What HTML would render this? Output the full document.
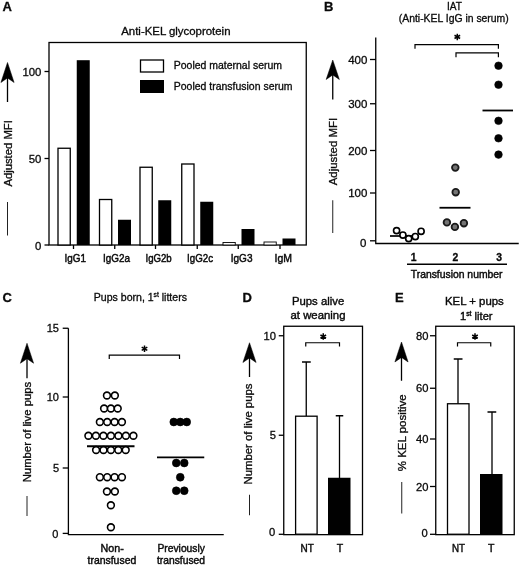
<!DOCTYPE html>
<html><head><meta charset="utf-8"><title>Figure</title>
<style>
html,body{margin:0;padding:0;background:#fff;}
body{width:520px;height:565px;overflow:hidden;font-family:"Liberation Sans",sans-serif;}
svg{display:block;will-change:transform;opacity:0.999;}
text{font-family:"Liberation Sans",sans-serif;fill:#0a0a0a;stroke:#0a0a0a;stroke-width:0.3;}
.b{font-weight:bold;}
.l{stroke:#000;stroke-width:1.3;fill:none;}
.d{stroke:#222;stroke-width:1;fill:none;}
.br{stroke:#000;stroke-width:1.2;fill:none;}
.w{fill:#fff;stroke:#000;stroke-width:1.3;}
.k{fill:#000;stroke:#000;stroke-width:0.6;}
</style></head><body>
<svg width="520" height="565" viewBox="0 0 520 565">
<rect width="520" height="565" fill="#fff"/>

<text x="2.6" y="10.5" font-size="13" class="b">A</text>
<text x="324" y="10.5" font-size="13" class="b">B</text>
<text x="2.6" y="301.5" font-size="13" class="b">C</text>
<text x="242.5" y="301.5" font-size="13" class="b">D</text>
<text x="395" y="301.5" font-size="13" class="b">E</text>
<!-- Panel A -->
<text x="121.25" y="35" font-size="10.4" textLength="109.25" lengthAdjust="spacingAndGlyphs">Anti-KEL glycoprotein</text>
<rect x="49" y="42.5" width="257.25" height="202.5" class="l"/>
<line x1="44.5" y1="71.5" x2="49" y2="71.5" class="l"/>
<text x="41.4" y="75.8" font-size="11.4" text-anchor="end">100</text>
<line x1="44.5" y1="158.5" x2="49" y2="158.5" class="l"/>
<text x="41.4" y="162.8" font-size="11.4" text-anchor="end">50</text>
<line x1="44.5" y1="245" x2="49" y2="245" class="l"/>
<text x="41.4" y="250.10000000000002" font-size="11.4" text-anchor="end">0</text>
<rect x="58.0" y="148.25" width="12.25" height="96.75" class="w"/>
<rect x="76.75" y="60.2" width="13" height="184.8" fill="#000"/>
<rect x="99.5" y="199.5" width="12.25" height="45.5" class="w"/>
<rect x="118" y="219.75" width="13" height="25.25" fill="#000"/>
<rect x="140.0" y="167.25" width="12.25" height="77.75" class="w"/>
<rect x="158.25" y="200.25" width="13" height="44.75" fill="#000"/>
<rect x="181.75" y="164.0" width="12.25" height="81.0" class="w"/>
<rect x="200.25" y="201.75" width="13" height="43.25" fill="#000"/>
<rect x="223.0" y="242.5" width="12.25" height="2.5000000000000058" fill="#fff" stroke="#000" stroke-width="0.9"/>
<rect x="241.5" y="229" width="13" height="16" fill="#000"/>
<rect x="264.0" y="242.0" width="12.25" height="3.0000000000000058" fill="#fff" stroke="#000" stroke-width="0.9"/>
<rect x="282.5" y="238.5" width="13" height="6.5" fill="#000"/>
<line x1="73.5" y1="245" x2="73.5" y2="249" class="l"/>
<text x="75.25" y="261.5" font-size="10.6" text-anchor="middle" textLength="21.5" lengthAdjust="spacingAndGlyphs" style="stroke-width:0.45">IgG1</text>
<line x1="114.75" y1="245" x2="114.75" y2="249" class="l"/>
<text x="116.5" y="261.5" font-size="10.6" text-anchor="middle" textLength="27" lengthAdjust="spacingAndGlyphs" style="stroke-width:0.45">IgG2a</text>
<line x1="155.5" y1="245" x2="155.5" y2="249" class="l"/>
<text x="158.6" y="261.5" font-size="10.6" text-anchor="middle" textLength="26.25" lengthAdjust="spacingAndGlyphs" style="stroke-width:0.45">IgG2b</text>
<line x1="197.25" y1="245" x2="197.25" y2="249" class="l"/>
<text x="200" y="261.5" font-size="10.6" text-anchor="middle" textLength="26" lengthAdjust="spacingAndGlyphs" style="stroke-width:0.45">IgG2c</text>
<line x1="238.25" y1="245" x2="238.25" y2="249" class="l"/>
<text x="241.6" y="261.5" font-size="10.6" text-anchor="middle" textLength="21.75" lengthAdjust="spacingAndGlyphs" style="stroke-width:0.45">IgG3</text>
<line x1="280" y1="245" x2="280" y2="249" class="l"/>
<text x="283.25" y="261.5" font-size="10.6" text-anchor="middle" textLength="17.5" lengthAdjust="spacingAndGlyphs" style="stroke-width:0.45">IgM</text>
<rect x="140.5" y="60" width="23" height="12" class="w"/>
<rect x="140" y="80" width="24" height="13" fill="#000"/>
<text x="173.75" y="69.3" font-size="10.3" textLength="108.25" lengthAdjust="spacingAndGlyphs">Pooled maternal serum</text>
<text x="173.75" y="89.8" font-size="10.3" textLength="118.75" lengthAdjust="spacingAndGlyphs">Pooled transfusion serum</text>
<path d="M7.5 62.5 L14.1 82.5 L7.5 77.9 L0.9000000000000004 82.5 Z" fill="#000" stroke="#000" stroke-width="0.5" stroke-linejoin="miter"/>
<line x1="7.5" y1="76.9" x2="7.5" y2="102" class="l"/>
<text x="11.7" y="186.6" font-size="11.2" textLength="66.5" lengthAdjust="spacingAndGlyphs" transform="rotate(-90 11.7 186.6)">Adjusted MFI</text>
<line x1="7.5" y1="202" x2="7.5" y2="235.5" class="d"/>
<!-- Panel B -->
<text x="454.5" y="9.6" font-size="10.3" text-anchor="middle" textLength="15" lengthAdjust="spacingAndGlyphs">IAT</text>
<text x="398.75" y="22.4" font-size="10.3" textLength="110" lengthAdjust="spacingAndGlyphs">(Anti-KEL IgG in serum)</text>
<path d="M375.75 37.5 V243.5 H518.75" class="l"/>
<line x1="370" y1="59.5" x2="375.75" y2="59.5" class="l"/>
<text x="367.4" y="63.7" font-size="11.5" text-anchor="end">400</text>
<line x1="370" y1="103.75" x2="375.75" y2="103.75" class="l"/>
<text x="367.4" y="107.95" font-size="11.5" text-anchor="end">300</text>
<line x1="370" y1="150.5" x2="375.75" y2="150.5" class="l"/>
<text x="367.4" y="154.7" font-size="11.5" text-anchor="end">200</text>
<line x1="370" y1="193" x2="375.75" y2="193" class="l"/>
<text x="367.4" y="197.2" font-size="11.5" text-anchor="end">100</text>
<line x1="370" y1="240.8" x2="375.75" y2="240.8" class="l"/>
<text x="366.4" y="247.3" font-size="11.5" text-anchor="end">0</text>
<path d="M415 48.8 V44.6 H498.4 V48.8" class="br"/>
<path d="M456 57.2 V52.9 H498.4 V57.2" class="br"/>
<path d="M457.30 33.65 L457.30 40.15 M454.49 35.27 L460.11 38.52 M460.11 35.27 L454.49 38.52 " stroke="#000" stroke-width="1.5" fill="none"/>
<circle cx="498.5" cy="65.7" r="3.8" class="k"/>
<circle cx="498.5" cy="84.7" r="3.8" class="k"/>
<circle cx="498.5" cy="120.8" r="3.8" class="k"/>
<circle cx="498.5" cy="138.3" r="3.8" class="k"/>
<circle cx="498.5" cy="154.6" r="3.8" class="k"/>
<line x1="482.5" y1="110.5" x2="513" y2="110.5" stroke="#000" stroke-width="1.8"/>
<circle cx="455.3" cy="167.6" r="3.3" fill="#747474" stroke="#1a1a1a" stroke-width="1.8"/>
<circle cx="455.7" cy="192.2" r="3.3" fill="#747474" stroke="#1a1a1a" stroke-width="1.8"/>
<circle cx="446.9" cy="222.4" r="3.3" fill="#747474" stroke="#1a1a1a" stroke-width="1.8"/>
<circle cx="454.9" cy="226.9" r="3.3" fill="#747474" stroke="#1a1a1a" stroke-width="1.8"/>
<circle cx="463.9" cy="223.2" r="3.3" fill="#747474" stroke="#1a1a1a" stroke-width="1.8"/>
<line x1="439.5" y1="207.75" x2="470.5" y2="207.75" stroke="#000" stroke-width="1.8"/>
<line x1="390" y1="236" x2="412" y2="236" stroke="#000" stroke-width="1.7"/>
<circle cx="396.6" cy="230.6" r="3.05" fill="#fff" stroke="#000" stroke-width="1.65"/>
<circle cx="402.9" cy="235" r="3.05" fill="#fff" stroke="#000" stroke-width="1.65"/>
<circle cx="408.7" cy="238.6" r="3.05" fill="#fff" stroke="#000" stroke-width="1.65"/>
<circle cx="415.3" cy="236.5" r="3.05" fill="#fff" stroke="#000" stroke-width="1.65"/>
<circle cx="421.1" cy="231.3" r="3.05" fill="#fff" stroke="#000" stroke-width="1.65"/>
<text x="413.75" y="260.6" font-size="10.4" text-anchor="middle" class="b">1</text>
<text x="455.5" y="260.6" font-size="10.4" text-anchor="middle" class="b">2</text>
<text x="499.25" y="260.6" font-size="10.4" text-anchor="middle" class="b">3</text>
<line x1="407" y1="264.2" x2="507" y2="264.2" stroke="#000" stroke-width="1.5"/>
<text x="410.75" y="278.2" font-size="10.4" textLength="91.75" lengthAdjust="spacingAndGlyphs" style="stroke-width:0.42">Transfusion number</text>
<path d="M332.75 60 L339.35 79.5 L332.75 74.9 L326.15 79.5 Z" fill="#000" stroke="#000" stroke-width="0.5" stroke-linejoin="miter"/>
<line x1="332.75" y1="73.9" x2="332.75" y2="99.5" class="l"/>
<text x="336.6" y="185.3" font-size="11.2" textLength="67.5" lengthAdjust="spacingAndGlyphs" transform="rotate(-90 336.6 185.3)">Adjusted MFI</text>
<line x1="332.75" y1="200.25" x2="332.75" y2="233" class="d"/>
<!-- Panel C -->
<text x="93.75" y="300.9" font-size="10.3" textLength="93.25" lengthAdjust="spacingAndGlyphs">Pups born, 1<tspan font-size="6.5" dy="-3.6">st</tspan><tspan dy="3.6"> litters</tspan></text>
<path d="M68.4 328.25 V534.6 H223.75" class="l"/>
<line x1="62.7" y1="328.25" x2="68.4" y2="328.25" class="l"/>
<text x="59.0" y="332.25" font-size="11" text-anchor="end">15</text>
<line x1="62.7" y1="397" x2="68.4" y2="397" class="l"/>
<text x="59.0" y="401" font-size="11" text-anchor="end">10</text>
<line x1="62.7" y1="468" x2="68.4" y2="468" class="l"/>
<text x="59.0" y="472" font-size="11" text-anchor="end">5</text>
<line x1="62.7" y1="533.4" x2="68.4" y2="533.4" class="l"/>
<text x="58.4" y="538.0" font-size="11" text-anchor="end">0</text>
<path d="M109.25 359 V355.2 H179.5 V359" class="br"/>
<path d="M144.50 345.55 L144.50 352.05 M141.69 347.18 L147.31 350.43 M147.31 347.18 L141.69 350.43 " stroke="#000" stroke-width="1.5" fill="none"/>
<line x1="87" y1="446.25" x2="134.5" y2="446.25" stroke="#000" stroke-width="1.9"/>
<circle cx="106.95" cy="395.5" r="3.4" fill="#fff" stroke="#000" stroke-width="1.6"/>
<circle cx="114.85" cy="395.5" r="3.4" fill="#fff" stroke="#000" stroke-width="1.6"/>
<circle cx="104.10" cy="408.5" r="3.4" fill="#fff" stroke="#000" stroke-width="1.6"/>
<circle cx="110.90" cy="408.5" r="3.4" fill="#fff" stroke="#000" stroke-width="1.6"/>
<circle cx="117.70" cy="408.5" r="3.4" fill="#fff" stroke="#000" stroke-width="1.6"/>
<circle cx="99.88" cy="422" r="3.4" fill="#fff" stroke="#000" stroke-width="1.6"/>
<circle cx="107.22" cy="422" r="3.4" fill="#fff" stroke="#000" stroke-width="1.6"/>
<circle cx="114.58" cy="422" r="3.4" fill="#fff" stroke="#000" stroke-width="1.6"/>
<circle cx="121.92" cy="422" r="3.4" fill="#fff" stroke="#000" stroke-width="1.6"/>
<circle cx="88.40" cy="435.75" r="3.4" fill="#fff" stroke="#000" stroke-width="1.6"/>
<circle cx="95.90" cy="435.75" r="3.4" fill="#fff" stroke="#000" stroke-width="1.6"/>
<circle cx="103.40" cy="435.75" r="3.4" fill="#fff" stroke="#000" stroke-width="1.6"/>
<circle cx="110.90" cy="435.75" r="3.4" fill="#fff" stroke="#000" stroke-width="1.6"/>
<circle cx="118.40" cy="435.75" r="3.4" fill="#fff" stroke="#000" stroke-width="1.6"/>
<circle cx="125.90" cy="435.75" r="3.4" fill="#fff" stroke="#000" stroke-width="1.6"/>
<circle cx="133.40" cy="435.75" r="3.4" fill="#fff" stroke="#000" stroke-width="1.6"/>
<circle cx="96.10" cy="450" r="3.4" fill="#fff" stroke="#000" stroke-width="1.6"/>
<circle cx="103.50" cy="450" r="3.4" fill="#fff" stroke="#000" stroke-width="1.6"/>
<circle cx="110.90" cy="450" r="3.4" fill="#fff" stroke="#000" stroke-width="1.6"/>
<circle cx="118.30" cy="450" r="3.4" fill="#fff" stroke="#000" stroke-width="1.6"/>
<circle cx="125.70" cy="450" r="3.4" fill="#fff" stroke="#000" stroke-width="1.6"/>
<circle cx="99.88" cy="477.2" r="3.4" fill="#fff" stroke="#000" stroke-width="1.6"/>
<circle cx="107.22" cy="477.2" r="3.4" fill="#fff" stroke="#000" stroke-width="1.6"/>
<circle cx="114.58" cy="477.2" r="3.4" fill="#fff" stroke="#000" stroke-width="1.6"/>
<circle cx="121.92" cy="477.2" r="3.4" fill="#fff" stroke="#000" stroke-width="1.6"/>
<circle cx="106.95" cy="491.5" r="3.4" fill="#fff" stroke="#000" stroke-width="1.6"/>
<circle cx="114.85" cy="491.5" r="3.4" fill="#fff" stroke="#000" stroke-width="1.6"/>
<circle cx="110.90" cy="505.25" r="3.4" fill="#fff" stroke="#000" stroke-width="1.6"/>
<circle cx="110.90" cy="527.25" r="3.4" fill="#fff" stroke="#000" stroke-width="1.6"/>
<line x1="157" y1="457.4" x2="204.25" y2="457.4" stroke="#000" stroke-width="1.9"/>
<circle cx="173.75" cy="422" r="3.9" class="k"/>
<circle cx="180.25" cy="422" r="3.9" class="k"/>
<circle cx="186.75" cy="422" r="3.9" class="k"/>
<circle cx="176.25" cy="463" r="3.9" class="k"/>
<circle cx="184.25" cy="463" r="3.9" class="k"/>
<circle cx="180.25" cy="477.25" r="3.9" class="k"/>
<circle cx="176.25" cy="490.75" r="3.9" class="k"/>
<circle cx="184.25" cy="490.75" r="3.9" class="k"/>
<text x="112.1" y="552" font-size="10.4" text-anchor="middle" textLength="23.25" lengthAdjust="spacingAndGlyphs" style="stroke-width:0.42">Non-</text>
<text x="111.9" y="563.8" font-size="10.4" text-anchor="middle" textLength="48.75" lengthAdjust="spacingAndGlyphs" style="stroke-width:0.42">transfused</text>
<text x="181.2" y="552" font-size="10.4" text-anchor="middle" textLength="47.5" lengthAdjust="spacingAndGlyphs" style="stroke-width:0.42">Previously</text>
<text x="181" y="563.8" font-size="10.4" text-anchor="middle" textLength="48" lengthAdjust="spacingAndGlyphs" style="stroke-width:0.42">transfused</text>
<path d="M27 343.25 L33.6 363.25 L27 358.65 L20.4 363.25 Z" fill="#000" stroke="#000" stroke-width="0.5" stroke-linejoin="miter"/>
<line x1="27" y1="357.65" x2="27" y2="378.25" class="l"/>
<text x="31" y="482.3" font-size="11.2" textLength="100.5" lengthAdjust="spacingAndGlyphs" transform="rotate(-90 31 482.3)">Number of live pups</text>
<line x1="27" y1="496" x2="27" y2="516" class="d"/>
<!-- Panel D -->
<text x="318.1" y="305.3" font-size="11.3" text-anchor="middle" textLength="52.25" lengthAdjust="spacingAndGlyphs" style="stroke-width:0.4">Pups alive</text>
<text x="318" y="319.4" font-size="11.3" text-anchor="middle" textLength="55" lengthAdjust="spacingAndGlyphs" style="stroke-width:0.4">at weaning</text>
<rect x="283.75" y="326.25" width="78.75" height="208.4" class="l"/>
<line x1="278.75" y1="335.75" x2="283.75" y2="335.75" class="l"/>
<text x="276" y="339.75" font-size="11.2" text-anchor="end">10</text>
<line x1="278.75" y1="435.25" x2="283.75" y2="435.25" class="l"/>
<text x="276" y="439.25" font-size="11.2" text-anchor="end">5</text>
<line x1="278.75" y1="534.3" x2="283.75" y2="534.3" class="l"/>
<text x="275.3" y="536.0999999999999" font-size="11.2" text-anchor="end">0</text>
<path d="M305.75 346.5 V342.75 H339.5 V346.5" class="br"/>
<path d="M323.25 333.35 L323.25 339.85 M320.44 334.98 L326.06 338.23 M326.06 334.98 L320.44 338.23 " stroke="#000" stroke-width="1.5" fill="none"/>
<path d="M306.25 416 V362 M302 362 H310.75" class="l"/>
<rect x="295.6" y="416.2" width="21.5" height="118" class="w"/>
<path d="M339.5 478 V415.75 M335.75 415.75 H343.25" class="l"/>
<rect x="328" y="477.75" width="22.5" height="56.5" fill="#000"/>
<text x="307.2" y="551.8" font-size="10.5" text-anchor="middle" textLength="13.25" lengthAdjust="spacingAndGlyphs" style="stroke-width:0.42">NT</text>
<text x="339.9" y="551.8" font-size="10.5" text-anchor="middle" style="stroke-width:0.42">T</text>
<path d="M249.5 342.75 L256.1 362.5 L249.5 357.9 L242.9 362.5 Z" fill="#000" stroke="#000" stroke-width="0.5" stroke-linejoin="miter"/>
<line x1="249.5" y1="356.9" x2="249.5" y2="377" class="l"/>
<text x="252.4" y="484.5" font-size="11.2" textLength="101" lengthAdjust="spacingAndGlyphs" transform="rotate(-90 252.4 484.5)">Number of live pups</text>
<line x1="249.5" y1="494.75" x2="249.5" y2="515.25" class="d"/>
<!-- Panel E -->
<text x="474.4" y="305.3" font-size="11.3" text-anchor="middle" textLength="58.75" lengthAdjust="spacingAndGlyphs" style="stroke-width:0.4">KEL + pups</text>
<text x="476.25" y="319.5" style="stroke-width:0.4" font-size="11.3" text-anchor="middle" textLength="32.5" lengthAdjust="spacingAndGlyphs">1<tspan font-size="7" dy="-4">st</tspan><tspan dy="4"> liter</tspan></text>
<rect x="435.75" y="326.25" width="78.5" height="208.4" class="l"/>
<line x1="430" y1="335.75" x2="435.75" y2="335.75" class="l"/>
<text x="428.5" y="339.75" font-size="11.2" text-anchor="end">80</text>
<line x1="430" y1="388.25" x2="435.75" y2="388.25" class="l"/>
<text x="428.5" y="392.25" font-size="11.2" text-anchor="end">60</text>
<line x1="430" y1="439" x2="435.75" y2="439" class="l"/>
<text x="428.5" y="443" font-size="11.2" text-anchor="end">40</text>
<line x1="430" y1="486.5" x2="435.75" y2="486.5" class="l"/>
<text x="428.5" y="490.5" font-size="11.2" text-anchor="end">20</text>
<line x1="430" y1="534.3" x2="435.75" y2="534.3" class="l"/>
<text x="427.8" y="537.0" font-size="11.2" text-anchor="end">0</text>
<path d="M457.5 346.5 V342.75 H490.75 V346.5" class="br"/>
<path d="M475.00 333.35 L475.00 339.85 M472.19 334.98 L477.81 338.23 M477.81 334.98 L472.19 338.23 " stroke="#000" stroke-width="1.5" fill="none"/>
<path d="M458 404 V359 M453.75 359 H462.5" class="l"/>
<rect x="447.5" y="403.75" width="21.5" height="130.5" class="w"/>
<path d="M492 474 V412 M487.5 412 H496.25" class="l"/>
<rect x="480" y="474" width="22.5" height="60.25" fill="#000"/>
<text x="458.4" y="551.8" font-size="10.5" text-anchor="middle" textLength="13" lengthAdjust="spacingAndGlyphs" style="stroke-width:0.42">NT</text>
<text x="491.25" y="551.8" font-size="10.5" text-anchor="middle" style="stroke-width:0.42">T</text>
<path d="M401.5 342 L408.1 362 L401.5 357.4 L394.9 362 Z" fill="#000" stroke="#000" stroke-width="0.5" stroke-linejoin="miter"/>
<line x1="401.5" y1="356.4" x2="401.5" y2="380.75" class="l"/>
<text x="405.6" y="471.3" font-size="11.2" textLength="77" lengthAdjust="spacingAndGlyphs" transform="rotate(-90 405.6 471.3)">% KEL positive</text>
<line x1="401.75" y1="482" x2="401.75" y2="513.5" class="d"/>
</svg></body></html>
